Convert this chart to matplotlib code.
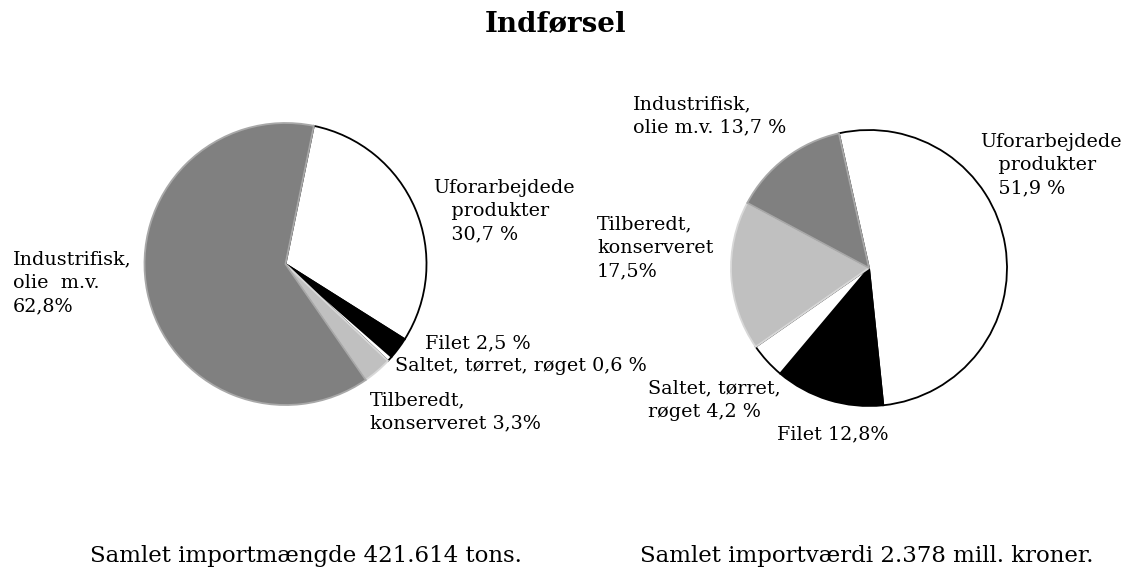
import matplotlib.pyplot as plt

# data
categories = ['Uforarbejdede produkter', 'Filet', 'Saltet, tørret, røget',
              'Tilberedt, konserveret', 'Industrifisk, olie m.v.']
maengde_pct = [30.7, 2.5, 0.6, 3.3, 62.8]
vaerdi_pct = [51.9, 12.8, 4.2, 17.5, 13.7]

maengde_labels = ['Uforarbejdede\n   produkter\n   30,7 %', 'Filet 2,5 %',
                  'Saltet, tørret, røget 0,6 %', 'Tilberedt,\nkonserveret 3,3%',
                  'Industrifisk,\nolie  m.v.\n62,8%']
vaerdi_labels = ['Uforarbejdede\n   produkter\n   51,9 %', 'Filet 12,8%',
                 'Saltet, tørret,\nrøget 4,2 %', 'Tilberedt,\nkonserveret\n17,5%',
                 'Industrifisk,\nolie m.v. 13,7 %']

title = 'Indførsel'
note_left = 'Samlet importmængde 421.614 tons.'
note_right = 'Samlet importværdi 2.378 mill. kroner.'

colors = ['white', 'black', 'white', '#c0c0c0', '#808080']
edges = ['black', 'black', 'black', '#d8d8d8', '#a8a8a8']

W, H = 1143, 570
plt.rcParams['font.family'] = 'DejaVu Serif'

fig = plt.figure(figsize=(W / 100, H / 100), dpi=100)
ax = fig.add_axes([0, 0, 1, 1])


def draw_pie(values, cx, cy, r, start):
    wedges, _ = ax.pie(values, colors=colors, startangle=start, counterclock=False,
                       center=(cx, H - cy), radius=r, frame=True)
    for i, w in enumerate(wedges):
        w.set_edgecolor(edges[i])
        w.set_linewidth(1.3)
        # grey wedges on top so their light edges cover the shared radii
        w.set_zorder(2 if colors[i] in ('white', 'black') else 3)


draw_pie(maengde_pct, 285.5, 264, 141, 78.4)
draw_pie(vaerdi_pct, 869, 268, 138, 102.6)

# label block positions (left x, centre y of block) in pixels
left_pos = [(433, 211), (425, 343), (395, 366), (370, 412), (13, 283)]
right_pos = [(980, 165), (777, 434), (648, 400), (597, 248), (633, 116)]

fs = 13.8
for lab, (x, y) in zip(maengde_labels, left_pos):
    ax.text(x, H - y, lab, fontsize=fs, ha='left', va='center', linespacing=1.38)
for lab, (x, y) in zip(vaerdi_labels, right_pos):
    ax.text(x, H - y, lab, fontsize=fs, ha='left', va='center', linespacing=1.38)

ax.text(556, H - 24, title, fontsize=20, fontweight='bold', ha='center', va='center')
ax.text(306, H - 562, note_left, fontsize=16.5, ha='center', va='baseline')
ax.text(867, H - 562, note_right, fontsize=16.5, ha='center', va='baseline')

ax.set_xlim(0, W)
ax.set_ylim(0, H)
ax.set_aspect('equal')
ax.axis('off')

fig.savefig('out.png', dpi=100, facecolor='white')
